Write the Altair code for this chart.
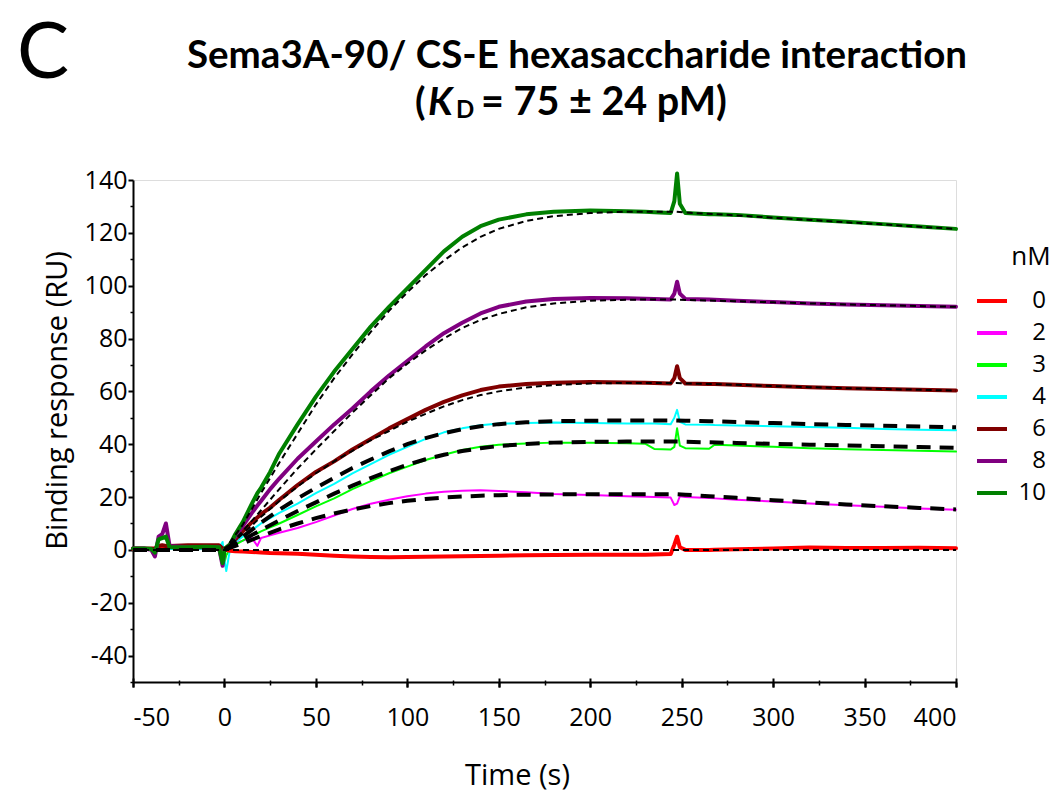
import altair as alt
import pandas as pd

# ---------------- data ----------------
CONCS = ["0", "2", "3", "4", "6", "8", "10"]
COLORS = ["#FF0000", "#FF00FF", "#00FF00", "#00FFFF", "#800000", "#800080", "#008000"]
THIN_DATA = ["2", "3", "4"]
THICK_DATA = ["0", "6", "8", "10"]
THICK_FITS = ["2", "3", "4"]
THIN_FITS = ["0", "6", "8", "10"]

T = [-50, -44, -40, -38, -36, -34, -32, -30, -20, -10,
     -3, -1, 0, 1, 3, 6, 10, 15, 18, 20,
     25, 30, 40, 50, 60, 70, 80, 90, 100, 110,
     120, 130, 140, 150, 165, 180, 200, 220, 230, 235,
     244, 246, 247.5, 249, 252, 265, 268, 280, 300, 320,
     340, 360, 380, 400]

R0 = [0.3, 0.3, 0.3, 0.5, 1.0, 1.5, 1.5, 1.5, 1.2, 1.0,
      0.6, 0.2, 0.0, 0.0, -0.3, -0.5, -0.6, -0.8, -0.9, -1.0,
      -1.2, -1.3, -1.5, -1.8, -2.2, -2.5, -2.7, -2.8, -2.7, -2.6,
      -2.5, -2.4, -2.3, -2.2, -2.0, -1.9, -1.8, -1.8, -1.8, -1.7,
      -1.6, 2.0, 5.0, 1.0, 0.0, 0.0, 0.1, 0.2, 0.5, 0.9,
      0.7, 0.7, 0.8, 0.6]
R2 = [0, 0, 0, 0.2, 0.5, 0.5, 0.5, 0.3, 0.3, 0.3,
      0.5, 0.0, 0.0, 0.5, 1.5, 2.5, 3.5, 4.5, 1.5, 4.5,
      5.5, 6.5, 8.3, 10.5, 13.0, 15.5, 17.5, 19.0, 20.3, 21.3,
      22.0, 22.4, 22.6, 22.3, 21.8, 21.2, 20.8, 20.3, 20.1, 20.0,
      19.8, 17.0, 17.5, 20.3, 20.0, 19.6, 19.5, 19.0, 18.3, 17.6,
      16.9, 16.3, 15.7, 15.2]
R3 = [0, 0, 0, 0.3, 1.0, 1.0, 0.8, 0.5, 0.5, 0.5,
      0.5, -3.0, -5.0, -2.0, 0.0, 2.0, 3.5, 5.5, 6.3, 7.0,
      8.5, 10.0, 13.2, 16.5, 19.5, 23.0, 26.0, 29.0, 31.5, 34.0,
      36.0, 37.8, 39.0, 39.8, 40.3, 40.6, 40.6, 40.4, 40.2, 38.2,
      38.0, 39.0, 46.0, 39.5, 38.5, 38.3, 39.8, 39.5, 39.0, 38.5,
      38.1, 37.8, 37.5, 37.2]
R4 = [0, 0, 0, 0.2, 0.5, 1.0, 0.5, 0.3, 0.2, 0.3,
      0.5, 3.0, -4.0, -8.0, 0.0, 3.0, 5.0, 7.5, 9.0, 10.0,
      12.0, 14.0, 17.5, 21.5, 25.0, 29.0, 32.5, 36.0, 39.0, 42.0,
      44.5, 46.0, 47.2, 47.8, 48.0, 48.2, 48.0, 47.8, 47.8, 47.8,
      47.6, 50.0, 53.0, 48.5, 47.5, 47.4, 47.3, 47.1, 46.8, 46.5,
      46.2, 45.8, 45.5, 45.3]
R6 = [0.5, 0.5, 0.5, 0.3, 1.5, 1.8, 1.5, 1.5, 1.8, 1.8,
      1.8, 0.5, 0.5, 0.8, 2.0, 4.0, 7.0, 10.5, 12.3, 13.5,
      16.0, 19.0, 24.5, 29.5, 33.5, 38.0, 42.0, 46.0, 49.5, 53.0,
      56.0, 58.5, 60.5, 61.8, 62.8, 63.3, 63.5, 63.4, 63.3, 63.2,
      63.0, 65.0, 69.5, 65.0, 63.0, 62.8, 62.8, 62.5, 62.0, 61.6,
      61.2, 60.9, 60.6, 60.3]
R8 = [0.5, 0.5, 0.0, -2.5, 5.0, 6.0, 10.0, 1.5, 1.0, 1.0,
      1.0, -6.0, 0.0, 0.5, 2.0, 5.0, 9.0, 14.0, 16.8, 18.5,
      23.0, 27.0, 34.5, 41.0, 47.5, 53.5, 60.0, 66.0, 71.5, 77.0,
      82.0, 86.0, 89.5, 92.0, 94.0, 95.0, 95.3, 95.2, 95.1, 95.0,
      94.8, 97.0, 101.5, 97.0, 95.0, 94.8, 94.7, 94.3, 93.8, 93.3,
      92.9, 92.6, 92.3, 92.0]
R10 = [0.5, 0.5, 0.3, -1.0, 4.0, 4.5, 5.0, 1.0, 1.0, 1.2,
       1.0, -5.0, 0.0, 1.0, 2.0, 6.0, 10.5, 17.5, 21.5, 23.5,
       29.5, 36.5, 47.5, 58.0, 67.5, 76.0, 84.5, 92.0, 99.0, 106.0,
       113.0, 118.5, 122.5, 125.0, 127.0, 128.0, 128.5, 128.2, 128.0, 127.8,
       127.5, 132.0, 142.5, 131.0, 127.5, 127.0, 127.0, 126.8, 125.8, 125.0,
       124.2, 123.3, 122.4, 121.5]

TF = [-50, 0, 10, 20, 30, 40, 50, 60, 70, 80,
      90, 100, 110, 120, 130, 140, 150, 165, 180, 200,
      220, 247, 252, 265, 280, 300, 320, 340, 360, 380, 400]

F0 = [0] * 31
F2 = [0, 0, 2.5, 5.2, 7.8, 10.0, 12.0, 13.8, 15.3, 16.6,
      17.7, 18.6, 19.3, 19.8, 20.2, 20.5, 20.7, 20.9, 21.0, 21.1,
      21.1, 21.1, 20.9, 20.3, 19.7, 18.8, 18.0, 17.2, 16.5, 15.9, 15.3]
F3 = [0, 0, 3.7, 7.5, 11.2, 14.7, 18.0, 21.3, 24.3, 27.2,
      29.8, 32.2, 34.3, 36.0, 37.4, 38.5, 39.3, 40.1, 40.6, 40.9,
      41.0, 41.0, 40.9, 40.7, 40.5, 40.1, 39.8, 39.5, 39.2, 38.9, 38.6]
F4 = [0, 0, 5.0, 10.3, 15.2, 19.5, 23.5, 27.3, 31.0, 34.2,
      37.3, 40.0, 42.3, 44.2, 45.7, 46.8, 47.6, 48.3, 48.7, 48.9,
      49.0, 49.0, 48.9, 48.7, 48.4, 48.0, 47.6, 47.3, 47.0, 46.7, 46.4]
F6 = [0, 0, 6.0, 12.5, 18.5, 24.0, 29.0, 33.5, 37.5, 41.5,
      45.0, 48.5, 51.5, 54.3, 56.7, 58.6, 60.0, 61.5, 62.4, 63.0,
      63.2, 63.2, 63.0, 62.8, 62.5, 62.0, 61.6, 61.2, 60.9, 60.6, 60.3]
F8 = [0, 0, 7.0, 15.0, 23.0, 30.8, 38.0, 45.0, 52.0, 58.5,
      65.0, 70.5, 75.5, 80.0, 84.0, 87.0, 89.3, 91.8, 93.3, 94.3,
      94.7, 94.8, 94.6, 94.4, 94.1, 93.7, 93.3, 92.9, 92.6, 92.3, 92.0]
F10 = [0, 0, 9.5, 21.5, 33.0, 44.0, 55.0, 65.0, 74.0, 82.5,
       90.5, 97.5, 104.0, 109.5, 114.5, 118.5, 121.5, 124.5, 126.3, 127.5,
       128.0, 128.0, 127.7, 127.2, 126.6, 125.7, 124.9, 124.0, 123.2, 122.3, 121.5]

X_MAJOR = [-50, 0, 50, 100, 150, 200, 250, 300, 350, 400]
X_MINOR = [-25, 25, 75, 125, 175, 225, 275, 325, 375]
Y_MAJOR = [-40, -20, 0, 20, 40, 60, 80, 100, 120, 140]
Y_MINOR = [-50, -30, -10, 10, 30, 50, 70, 90, 110, 130]

TITLE1 = "Sema3A-90/ CS-E hexasaccharide  interaction"

# ---------------- tables ----------------
rows = []
for c, vals in zip(CONCS, [R0, R2, R3, R4, R6, R8, R10]):
    for t, v in zip(T, vals):
        rows.append({"t": t, "v": v, "c": c})
data = pd.DataFrame(rows)

frows = []
for c, vals in zip(CONCS, [F0, F2, F3, F4, F6, F8, F10]):
    for t, v in zip(TF, vals):
        frows.append({"t": t, "v": v, "c": c})
fits = pd.DataFrame(frows)

FONT = "Open Sans"
xs = alt.Scale(domain=[-50, 400], nice=False, zero=False)
ys = alt.Scale(domain=[-50, 140], nice=False, zero=False)
LABEL_EXPR = "'' + datum.value"

x_main = alt.Axis(orient="bottom", values=X_MAJOR, tickSize=5, tickWidth=2, tickColor="black",
                  domainWidth=2, domainColor="black", grid=False, labelExpr=LABEL_EXPR,
                  labelFont=FONT, labelFontSize=25, labelColor="black", labelPadding=18,
                  title="Time (s)", titleFont=FONT, titleFontSize=29, titleFontWeight="normal",
                  titleColor="black", titleX=384, titleY=93, titleAlign="center",
                  titleBaseline="middle")
y_main = alt.Axis(orient="left", values=Y_MAJOR, tickSize=5, tickWidth=2, tickColor="black",
                  domainWidth=2, domainColor="black", grid=False, labelExpr=LABEL_EXPR,
                  labelFont=FONT, labelFontSize=25, labelColor="black", labelPadding=1,
                  title="Binding response (RU)", titleFont=FONT, titleFontSize=29,
                  titleFontWeight="normal", titleColor="black", titleX=-76, titleY=220,
                  titleAngle=270, titleAlign="center", titleBaseline="middle")
x_cross = alt.Axis(orient="bottom", values=X_MAJOR, tickSize=9, tickWidth=2, tickColor="black",
                   offset=-4, domain=False, labels=False, grid=False, title=None)
x_minor = alt.Axis(orient="bottom", values=X_MINOR, tickSize=5, tickWidth=1.5, tickColor="black",
                   offset=-2, domain=False, labels=False, grid=False, title=None)
y_minor = alt.Axis(orient="left", values=Y_MINOR, tickSize=3, tickWidth=1.5, tickColor="black",
                   domain=False, labels=False, grid=False, title=None)

legend = alt.Legend(title=None, orient="none", legendX=842, legendY=104,
                    symbolType="stroke", symbolSize=900, symbolStrokeWidth=4,
                    labelFont=FONT, labelFontSize=24, labelColor="black",
                    labelAlign="right", labelOffset=37, rowPadding=3, padding=0)
color = alt.Color("c:N", scale=alt.Scale(domain=CONCS, range=COLORS), legend=legend)

data_thick = alt.Chart(data).transform_filter(
    alt.FieldOneOfPredicate(field="c", oneOf=THICK_DATA)
).mark_line(strokeWidth=4, strokeJoin="round", strokeCap="round").encode(
    x=alt.X("t:Q", scale=xs, axis=x_main),
    y=alt.Y("v:Q", scale=ys, axis=y_main),
    color=color,
)
data_thin = alt.Chart(data).transform_filter(
    alt.FieldOneOfPredicate(field="c", oneOf=THIN_DATA)
).mark_line(strokeWidth=2, strokeJoin="round", strokeCap="round").encode(
    x=alt.X("t:Q", scale=xs, axis=None),
    y=alt.Y("v:Q", scale=ys, axis=None),
    color=color,
)

fit_thin = alt.Chart(fits).transform_filter(
    alt.FieldOneOfPredicate(field="c", oneOf=THIN_FITS)
).mark_line(color="black", strokeWidth=2, strokeDash=[6, 4]).encode(
    x=alt.X("t:Q", scale=xs, axis=x_cross),
    y=alt.Y("v:Q", scale=ys, axis=y_minor),
    detail="c:N",
)
fit_thick = alt.Chart(fits).transform_filter(
    alt.FieldOneOfPredicate(field="c", oneOf=THICK_FITS)
).mark_line(color="black", strokeWidth=4, strokeDash=[14, 9]).encode(
    x=alt.X("t:Q", scale=xs, axis=x_minor),
    y=alt.Y("v:Q", scale=ys, axis=None),
    detail="c:N",
)

one = pd.DataFrame({"a": [0]})


def txt(s, x, y, size, weight="bold", style="normal", align="left", font="Lato"):
    return alt.Chart(one).mark_text(text=s, font=font, fontSize=size, fontWeight=weight,
                                    fontStyle=style, align=align, baseline="middle",
                                    color="black").encode(x=alt.value(x), y=alt.value(y))


panel = txt("C", -90, -125, 78, weight="normal", align="center")
t1 = txt(TITLE1, 444, -124, 38.5, align="center")
t2a = txt("(", 282, -77, 38.5)
t2b = txt("K", 295, -77, 38.5, style="italic")
t2c = txt("D", 323, -69, 24)
t2d = txt("= 75 \u00b1 24 pM)", 348, -77, 39.5)
nm = txt("nM", 898, 77, 26, weight="normal", align="center", font=FONT)

chart = alt.layer(
    data_thin, data_thick, fit_thick, fit_thin, panel, t1, t2a, t2b, t2c, t2d, nm
).resolve_axis(x="independent", y="independent").properties(
    width=823, height=502,
    autosize=alt.AutoSizeParams(type="none"),
    padding={"left": 133, "top": 180, "right": 100, "bottom": 112},
).configure_view(stroke=None).configure(background="white")

chart.save("out.html", embed_options={"renderer": "svg", "actions": False})
